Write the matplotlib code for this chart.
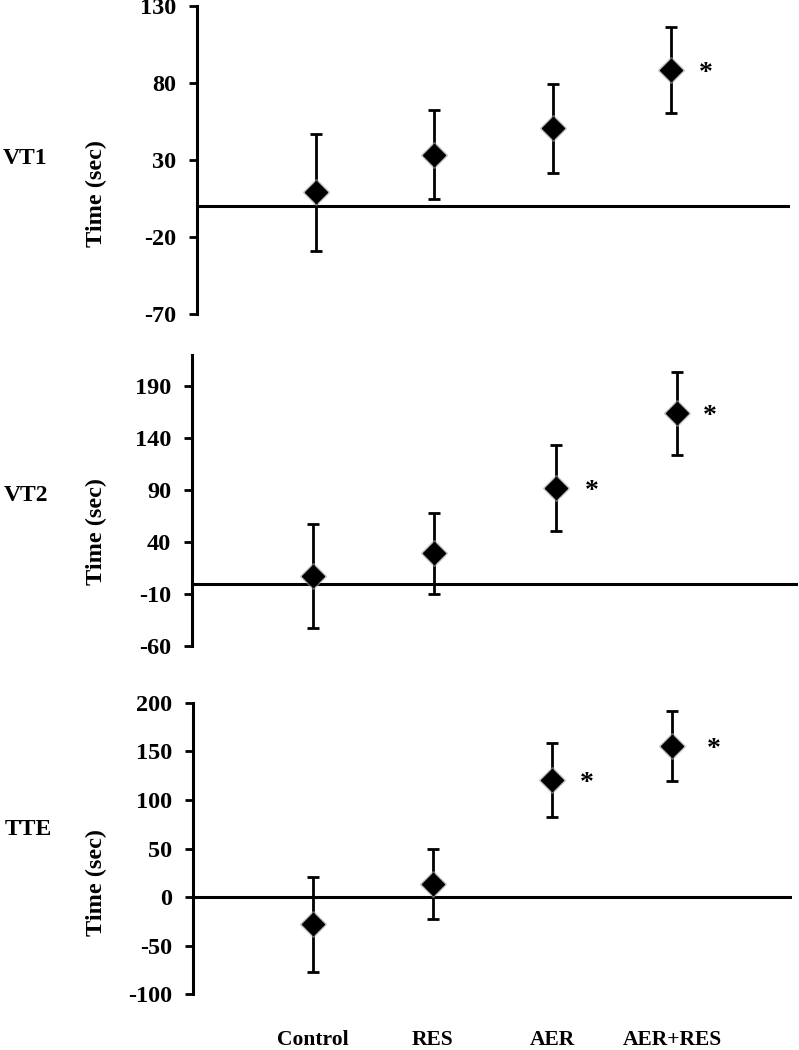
import numpy as np
import matplotlib.pyplot as plt

plt.rcParams['font.family'] = ['Liberation Serif', 'DejaVu Serif']
plt.rcParams['font.weight'] = 'bold'
plt.rcParams['axes.unicode_minus'] = False

# Data (change in time, sec)
groups = ["Control", "RES", "AER", "AER+RES"]
panels = ["VT1", "VT2", "TTE"]

vt1_mean = [9, 33.5, 50.5, 88.5]
vt1_err = [38, 29, 29, 28]
vt1_sig = [False, False, False, True]

vt2_mean = [7, 29, 92, 164]
vt2_err = [50, 39, 41, 40]
vt2_sig = [False, False, True, True]

tte_mean = [-28, 13.5, 120, 155]
tte_err = [49, 36, 38, 36]
tte_sig = [False, False, True, True]

vt1_ticks = [-70, -20, 30, 80, 130]
vt2_ticks = [-60, -10, 40, 90, 140, 190]
tte_ticks = [-100, -50, 0, 50, 100, 150, 200]

ylims = [(-70, 130), (-60, 220), (-100, 200)]

fig = plt.figure(figsize=(7.99, 10.5), dpi=100)

# axes rectangles in figure fraction
rects = [
    [0.2466, 0.7010, 0.7421, 0.2933],
    [0.2403, 0.3848, 0.7584, 0.2771],
    [0.2416, 0.0530, 0.7497, 0.2778],
]
label_pos = [(-0.152, 0.39), (-0.140, 0.395), (-0.144, 0.385)]
name_pos = [(0.031, 0.849), (0.033, 0.528), (0.036, 0.210)]
star_dx = [[0, 0, 0, 25], [0, 0, 26, 24], [0, 0, 25, 30]]

means = [vt1_mean, vt2_mean, tte_mean]
errs = [vt1_err, vt2_err, tte_err]
sigs = [vt1_sig, vt2_sig, tte_sig]
ticks = [vt1_ticks, vt2_ticks, tte_ticks]

x = np.arange(1, len(groups) + 1)

for i in range(3):
    ax = fig.add_axes(rects[i])
    ax.errorbar(x, means[i], yerr=errs[i], fmt='none', ecolor='black',
                elinewidth=2, capsize=4.5, capthick=2, zorder=2)
    # soft shadow + diamond
    ax.plot(x, means[i], 'D', color='#9a9a9a', markersize=13, alpha=0.5, zorder=3)
    ax.plot(x, means[i], 'D', color='black', markersize=11.5, zorder=4)
    for j in range(len(groups)):
        if sigs[i][j]:
            ax.annotate("*", (x[j], means[i][j]), xytext=(star_dx[i][j], -2.5),
                        textcoords='offset points', ha='center', va='center',
                        fontsize=20, fontweight='bold')
    ax.axhline(0, color='black', lw=2.2, zorder=1)
    ax.set_xlim(0, 5)
    ax.set_ylim(ylims[i])
    ax.set_yticks(ticks[i])
    ax.tick_params(axis='y', direction='out', length=6, width=2, labelsize=17.5, pad=9)
    for s in ['top', 'right', 'bottom']:
        ax.spines[s].set_visible(False)
    ax.spines['left'].set_linewidth(2.2)
    ax.set_ylabel("Time (sec)", fontsize=17.5, fontweight='bold')
    ax.yaxis.set_label_coords(*label_pos[i])
    fig.text(name_pos[i][0], name_pos[i][1], panels[i], fontsize=17,
             fontweight='bold', ha='center', va='center')
    if i == 2:
        ax.set_xticks(x)
        ax.set_xticklabels(groups, fontsize=15.5, fontweight='bold')
        ax.tick_params(axis='x', length=0, pad=26)
    else:
        ax.set_xticks([])

fig.savefig("out.png", dpi=100)
